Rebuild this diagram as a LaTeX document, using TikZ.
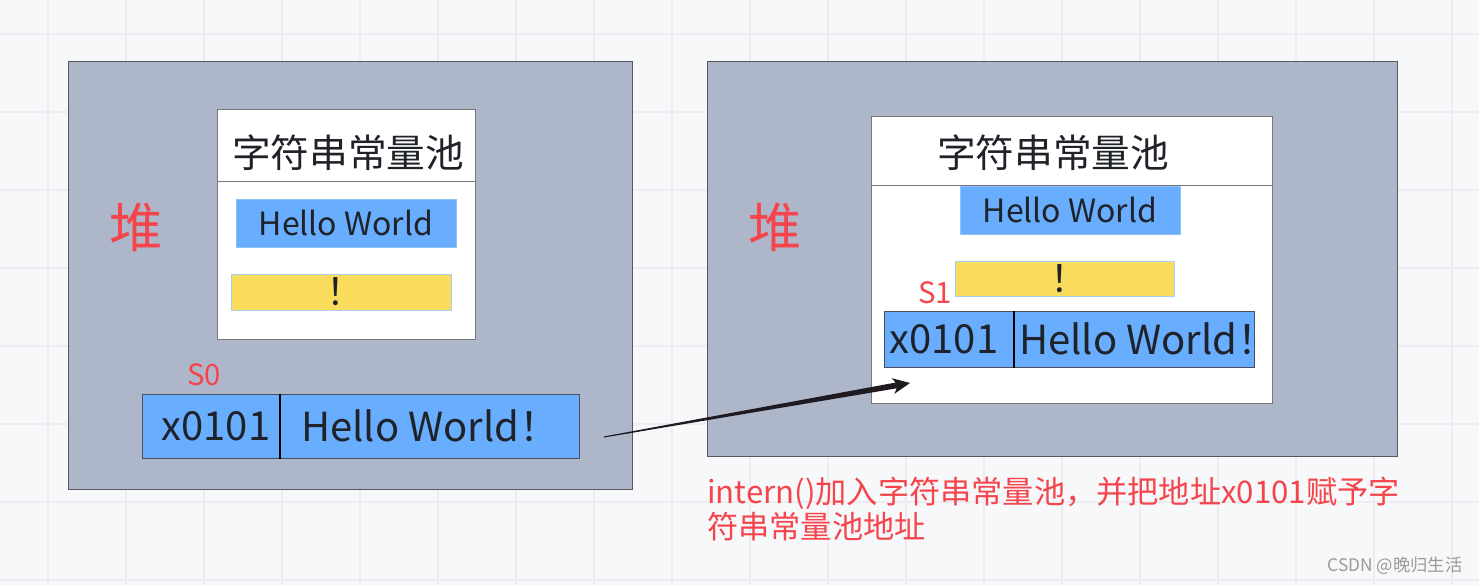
\documentclass[tikz,border=0pt]{standalone}
\usepackage{fontspec}
\setmainfont{Noto Sans CJK SC}
\usetikzlibrary{calc}

\definecolor{bgclr}{HTML}{F7F8FA}
\definecolor{gridclr}{HTML}{ECEDF0}
\definecolor{heapfill}{HTML}{AEB6CA}
\definecolor{heapline}{HTML}{5C5661}
\definecolor{poolline}{HTML}{77767D}
\definecolor{bluefill}{HTML}{68ADFE}
\definecolor{blueline}{HTML}{8EC3FA}
\definecolor{cellline}{HTML}{4A4F5C}
\definecolor{yellowfill}{HTML}{F9DC5C}
\definecolor{yellowline}{HTML}{A8CFF2}
\definecolor{darktext}{HTML}{1F2329}
\definecolor{redtext}{HTML}{F5444B}
\definecolor{arrowclr}{HTML}{1E1A1F}
\definecolor{markclr}{HTML}{9A9A9A}

\begin{document}
\begin{tikzpicture}[x=0.75pt,y=-0.75pt,
  sz/.style 2 args={minimum width=#1*0.75pt,minimum height=#2*0.75pt,inner sep=0pt},
  heap/.style={draw=heapline,fill=heapfill,line width=0.75pt},
  pool/.style={draw=poolline,fill=white,line width=0.75pt},
  hwbox/.style={draw=blueline,fill=bluefill,line width=0.75pt,text=darktext,font=\fontsize{24}{28}\selectfont},
  excl/.style={draw=yellowline,fill=yellowfill,line width=0.75pt},
  excltext/.style={text=darktext,inner sep=0pt,font=\fontsize{28}{32}\selectfont},
  cell/.style={draw=cellline,fill=bluefill,line width=0.75pt},
  celltext/.style={text=darktext,inner sep=0pt,font=\fontsize{30}{34}\selectfont},
  title/.style={text=darktext,inner sep=0pt,font=\fontsize{29}{34}\selectfont},
  heaplabel/.style={text=redtext,inner sep=0pt,font=\fontsize{40}{44}\selectfont},
  varlabel/.style={text=redtext,inner sep=0pt,font=\fontsize{22}{26}\selectfont}
]
  % background and grid
  \fill[bgclr] (0,0) rectangle (1479,585);
  \useasboundingbox (0,0) rectangle (1479,585);
  \foreach \gx in {48,126,...,1452}
    \draw[gridclr,line width=1.5pt] (\gx,0) -- (\gx,585);
  \foreach \gy in {34,112,...,580}
    \draw[gridclr,line width=1.5pt] (0,\gy) -- (1479,\gy);

  % left heap
  \node[heap,sz={564}{427}] (heapL) at (350,275.5) {};
  \node[heaplabel] (duiL) at (136,227) {堆};
  \node[pool,sz={258}{229}] (poolL) at (346,224.5) {};
  \draw[poolline,line width=0.75pt] ([yshift=-72*0.75pt]poolL.north west) -- ([yshift=-72*0.75pt]poolL.north east);
  \node[title] (titleL) at (348,153) {字符串常量池};
  \node[hwbox,sz={220}{48}] (hwL) at (346,223) {Hello World};
  \node[excl,sz={220}{36}] (exL) at (341,292) {};
  \node[excltext] (extxtL) at (345,292) {！};
  \node[varlabel] (sZero) at (204,375) {S0};
  \node[cell,sz={137}{64}] (addrL) at (210.5,426) {};
  \node[celltext] (addrtxtL) at (216,426) {x0101};
  \node[cell,sz={300}{64}] (strL) at (429,426) {};
  \node[celltext,anchor=west] (strtxtL) at (301,426) {Hello World！};
  \draw[black,line width=1.5pt] (addrL.north east) -- (addrL.south east);

  % right heap
  \node[heap,sz={690}{394}] (heapR) at (1052,259) {};
  \node[heaplabel] (duiR) at (775,227) {堆};
  \node[pool,sz={401}{286}] (poolR) at (1071.5,260) {};
  \draw[poolline,line width=0.75pt] ([yshift=-69*0.75pt]poolR.north west) -- ([yshift=-69*0.75pt]poolR.north east);
  \node[title] (titleR) at (1053,153) {字符串常量池};
  \node[hwbox,sz={220}{48}] (hwR) at (1070,210) {Hello World};
  \node[excl,sz={219}{35}] (exR) at (1064.5,278.5) {};
  \node[excltext] (extxtR) at (1069,278.5) {！};
  \node[varlabel] (sOne) at (935,293) {S1};
  \node[cell,sz={129}{56}] (addrR) at (948.5,339) {};
  \node[celltext] (addrtxtR) at (944,339) {x0101};
  \node[cell,sz={241}{56}] (strR) at (1133.5,339) {};
  \node[celltext,anchor=west] (strtxtR) at (1019,339) {Hello World！};
  \draw[black,line width=1.5pt] (addrR.north east) -- (addrR.south east);

  % arrow from s0 into the pool
  \coordinate (arrS) at (604,437);
  \coordinate (arrE) at (910,383);
  \coordinate (arrB) at ($(arrE)!13pt!(arrS)$);
  \coordinate (arrN) at ($(arrE)!10.5pt!(arrS)$);
  \fill[arrowclr] ($(arrS)!0.4pt!90:(arrE)$) -- ($(arrN)!2.2pt!90:(arrE)$)
    -- ($(arrB)!6pt!90:(arrE)$) -- (arrE) -- ($(arrB)!6pt!-90:(arrE)$)
    -- ($(arrN)!2.2pt!-90:(arrE)$) -- ($(arrS)!0.4pt!-90:(arrE)$) -- cycle;

  % note
  \node[text=redtext,inner sep=0pt,anchor=north west,align=left,
        font=\fontsize{23.4}{26.25}\selectfont] (note) at (707,477)
        {intern()加入字符串常量池，并把地址x0101赋予字\\符串常量池地址};
  \node[text=markclr,inner sep=0pt,font=\fontsize{13}{15}\selectfont] (mark) at (1395,566) {CSDN @晚归生活};
\end{tikzpicture}
\end{document}
